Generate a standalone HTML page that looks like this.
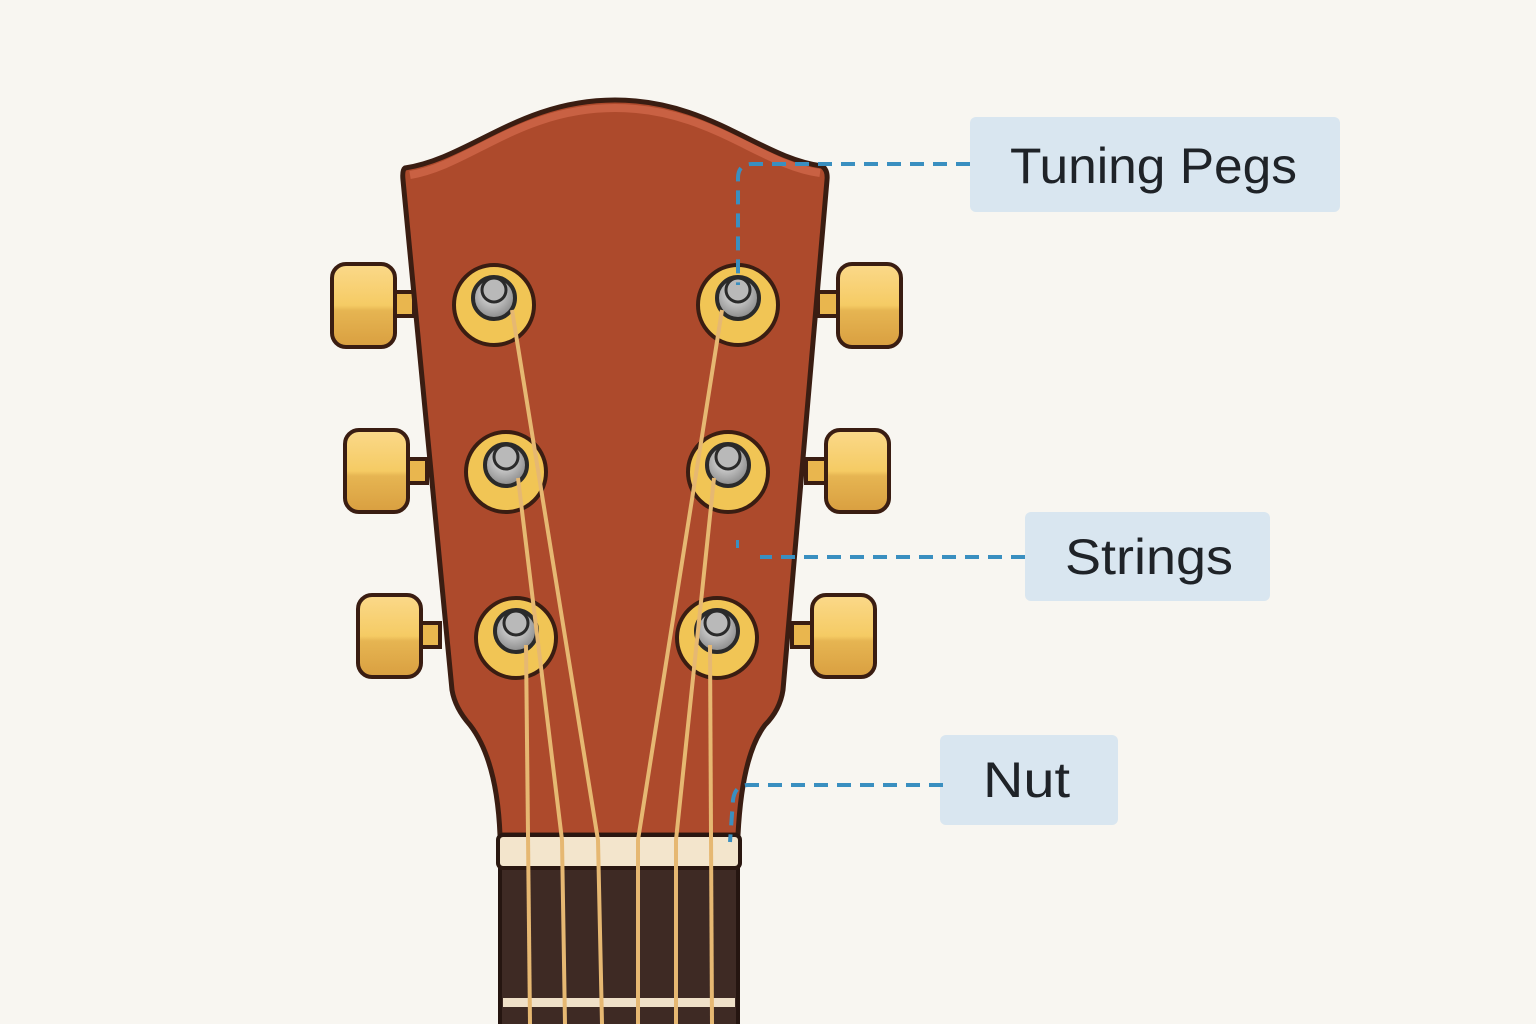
<!DOCTYPE html>
<html><head><style>
html,body{margin:0;padding:0;background:#f8f6f1;}
svg{display:block}
text{font-family:"Liberation Sans",sans-serif;fill:#1f2328}
</style></head><body>
<svg width="1536" height="1024" viewBox="0 0 1536 1024">
<defs>
<linearGradient id="btn" x1="0" y1="0" x2="0" y2="1">
<stop offset="0" stop-color="#fbd98a"/><stop offset="0.5" stop-color="#f5cb64"/><stop offset="0.56" stop-color="#e6b552"/><stop offset="1" stop-color="#d99f40"/>
</linearGradient>
<radialGradient id="post" cx="0.45" cy="0.4" r="0.6">
<stop offset="0" stop-color="#e8e8e8"/><stop offset="1" stop-color="#8a8a8a"/>
</radialGradient>
</defs>
<g stroke="#3a1d12" stroke-width="4">
<rect x="392" y="292" width="22" height="24" fill="#e9b64e"/>
<rect x="332" y="264" width="63" height="83" rx="14" fill="url(#btn)"/>
<rect x="405" y="459" width="22" height="24" fill="#e9b64e"/>
<rect x="345" y="430" width="63" height="82" rx="14" fill="url(#btn)"/>
<rect x="418" y="623" width="22" height="24" fill="#e9b64e"/>
<rect x="358" y="595" width="63" height="82" rx="14" fill="url(#btn)"/>
<rect x="818" y="292" width="22" height="24" fill="#e9b64e"/>
<rect x="838" y="264" width="63" height="83" rx="14" fill="url(#btn)"/>
<rect x="806" y="459" width="22" height="24" fill="#e9b64e"/>
<rect x="826" y="430" width="63" height="82" rx="14" fill="url(#btn)"/>
<rect x="792" y="623" width="22" height="24" fill="#e9b64e"/>
<rect x="812" y="595" width="63" height="82" rx="14" fill="url(#btn)"/>
</g>
<path d="M405,168 C470,158 520,100 615,100 C710,100 760,158 822,166 Q828,170 827,180 L783,690 Q780,710 765,725 Q742,755 738,835 L500,835 Q497,760 470,725 Q455,708 452,690 L403,180 Q402,170 405,168 Z" fill="#ad4a2c" stroke="#3a1d12" stroke-width="5"/>
<path d="M410,175 C470,165 520,108 615,108 C710,108 760,165 820,173" fill="none" stroke="#d0674a" stroke-width="8" opacity="0.8"/>
<rect x="500" y="862" width="238" height="170" fill="#3e2a24" stroke="#251510" stroke-width="4"/>
<rect x="503" y="998" width="232" height="9" fill="#efe0c8"/>
<rect x="498" y="835" width="242" height="33" rx="5" fill="#f3e5cc" stroke="#2a1710" stroke-width="4"/>
<g stroke="#3a1d12" stroke-width="4">
<circle cx="494" cy="305" r="40" fill="#f1c555"/>
<circle cx="506" cy="472" r="40" fill="#f1c555"/>
<circle cx="516" cy="638" r="40" fill="#f1c555"/>
<circle cx="738" cy="305" r="40" fill="#f1c555"/>
<circle cx="728" cy="472" r="40" fill="#f1c555"/>
<circle cx="717" cy="638" r="40" fill="#f1c555"/>
</g>
<g stroke="#2a2a2a" stroke-width="4" fill="url(#post)">
<circle cx="494" cy="298" r="21"/><circle cx="506" cy="465" r="21"/><circle cx="516" cy="631" r="21"/>
<circle cx="738" cy="298" r="21"/><circle cx="728" cy="465" r="21"/><circle cx="717" cy="631" r="21"/>
</g>
<g fill="#b9b9b9" stroke="#2a2a2a" stroke-width="3">
<circle cx="494" cy="290" r="12"/><circle cx="506" cy="457" r="12"/><circle cx="516" cy="623" r="12"/>
<circle cx="738" cy="290" r="12"/><circle cx="728" cy="457" r="12"/><circle cx="717" cy="623" r="12"/>
</g>
<g fill="none" stroke="#e6b872" stroke-width="4">
<path d="M512,310 L598,840 L602,1024"/>
<path d="M518,478 L562,840 L565,1024"/>
<path d="M526,645 L530,1024"/>
<path d="M722,310 L638,840 L638,1024"/>
<path d="M714,478 L676,840 L676,1024"/>
<path d="M710,645 L712,1024"/>
</g>
<rect x="970" y="117" width="370" height="95" rx="6" fill="#d9e6f0"/>
<text x="1010" y="183" font-size="50" textLength="287" lengthAdjust="spacingAndGlyphs">Tuning Pegs</text>
<rect x="1025" y="512" width="245" height="89" rx="6" fill="#d9e6f0"/>
<text x="1065" y="574" font-size="50" textLength="168" lengthAdjust="spacingAndGlyphs">Strings</text>
<rect x="940" y="735" width="178" height="90" rx="6" fill="#d9e6f0"/>
<text x="983" y="797" font-size="50" textLength="87" lengthAdjust="spacingAndGlyphs">Nut</text>
<g fill="none" stroke="#3a8fc0" stroke-width="4" stroke-dasharray="14,9">
<path d="M970,164 L752,164 Q738,164 738,178 L738,285"/>
<path d="M1025,557 L760,557"/>
<path d="M943,785 L748,785 Q735,785 733,800 L730,842"/>
</g>
<rect x="736" y="540" width="3" height="8" fill="#3a8fc0"/>
</svg>
</body></html>
